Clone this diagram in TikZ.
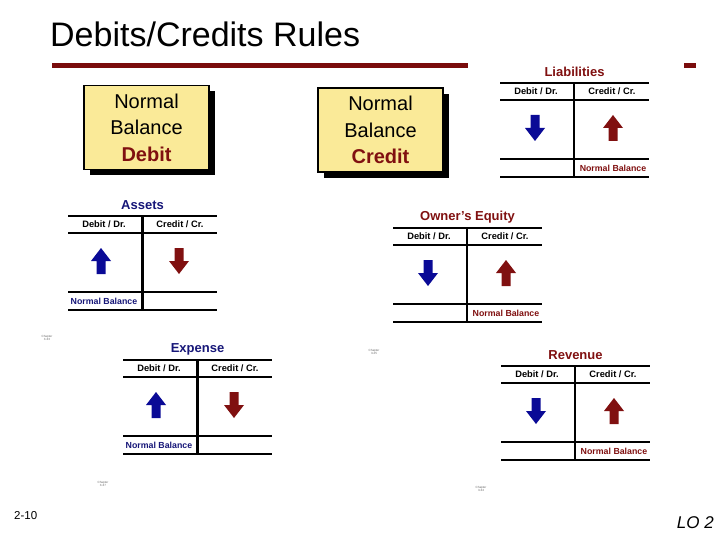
\documentclass[tikz,border=0pt]{standalone}
\usepackage{fontspec}
\setmainfont{Liberation Sans}
\usepackage{tikz}
\usetikzlibrary{shadows}

\definecolor{slidered}{RGB}{122,12,12}
\definecolor{acctred}{RGB}{128,16,16}
\definecolor{acctblue}{RGB}{22,22,120}
\definecolor{arrblue}{RGB}{10,10,150}
\definecolor{notefill}{RGB}{250,234,152}

\tikzset{
  upbar/.pic   = {\fill[pic actions] (-4.5,13) -- (-4.5,0) -- (-10,0) -- (0,-13)
                    -- (10,0) -- (4.5,0) -- (4.5,13) -- cycle;},
  downbar/.pic = {\fill[pic actions] (-4.5,-13) -- (-4.5,0) -- (-10,0) -- (0,13)
                    -- (10,0) -- (4.5,0) -- (4.5,-13) -- cycle;}
}

% frame of a T-account, drawn in local coordinates (top left = origin)
\newcommand{\tframe}[3]{%
  \node[accttitle, text=#3] (#1-title) at (74.5,-11) {#2};
  \draw[tline] (0,0) -- (149,0);
  \draw[tline] (0,17) -- (149,17);
  \draw[tline] (0,76) -- (149,76);
  \draw[tline, line width=2.2pt] (0,94) -- (149,94);
  \node[acctcol] (#1-dr) at (36,8.5) {Debit / Dr.};
  \node[acctcol] (#1-cr) at (112,8.5) {Credit / Cr.};
}
% debit-normal account: name, x, y, title
\newcommand{\debitacct}[4]{%
  \begin{scope}[shift={(#2,#3)}]
    \tframe{#1}{#4}{acctblue}
    \draw[line width=3pt] (74.5,0) -- (74.5,94);
    \pic[fill=arrblue] (#1-up) at (33,45) {upbar};
    \pic[fill=acctred] (#1-down) at (111,45) {downbar};
    \node[normbal, text=acctblue] (#1-nb) at (36,85) {Normal Balance};
  \end{scope}}
% credit-normal account: name, x, y, title
\newcommand{\creditacct}[4]{%
  \begin{scope}[shift={(#2,#3)}]
    \tframe{#1}{#4}{acctred}
    \draw[line width=1.4pt] (74,0) -- (74,94);
    \pic[fill=arrblue] (#1-down) at (35,45) {downbar};
    \pic[fill=acctred] (#1-up) at (113,45) {upbar};
    \node[normbal, text=acctred] (#1-nb) at (113,85) {Normal Balance};
  \end{scope}}

\begin{document}
\begin{tikzpicture}[
  x=1pt, y=-1pt,
  tline/.style     = {line width=1.8pt},
  accttitle/.style = {font=\bfseries\fontsize{13}{13}\selectfont, inner sep=0pt},
  acctcol/.style   = {font=\bfseries\fontsize{9.3}{9.3}\selectfont, inner sep=0pt},
  normbal/.style   = {font=\bfseries\fontsize{8.8}{8.8}\selectfont, inner sep=0pt},
  nbbox/.style     = {draw, line width=1.5pt, fill=notefill, align=center,
                      minimum width=125pt, minimum height=84pt, inner sep=0pt,
                      font=\fontsize{20}{26.5}\selectfont,
                      drop shadow={shadow xshift=6pt, shadow yshift=-6pt,
                                   fill=black, opacity=1}},
  chap/.style      = {font=\fontsize{3}{3.5}\selectfont, text=black!60,
                      align=center, inner sep=0pt}
]
\useasboundingbox (0,0) rectangle (720,540);

% ---- heading --------------------------------------------------------------
\node[anchor=base west, inner sep=0pt, font=\fontsize{34}{36}\selectfont]
  (title) at (50,47) {Debits/Credits Rules};
\fill[slidered] (52,63) rectangle (468,68);
\fill[slidered] (684,63) rectangle (696,68);

% ---- normal balance notes -------------------------------------------------
\node[nbbox] (nbdebit) at (146.5,127.5)
  {Normal\\Balance\\\textbf{\color{acctred}Debit}};
\node[nbbox] (nbcredit) at (380.5,130)
  {Normal\\Balance\\\textbf{\color{acctred}Credit}};

% ---- T-accounts -----------------------------------------------------------
\creditacct{liab}{500}{83}{Liabilities}
\debitacct{assets}{68}{216}{Assets}
\creditacct{equity}{393}{228}{Owner’s Equity}
\debitacct{expense}{123}{360}{Expense}
\creditacct{revenue}{501}{366}{Revenue}

% ---- slide leftovers ------------------------------------------------------
\node[chap] (chap1) at (47,338) {Chapter\\3-33};
\node[chap] (chap2) at (374,352) {Chapter\\3-25};
\node[chap] (chap3) at (103,484) {Chapter\\3-37};
\node[chap] (chap4) at (481,489) {Chapter\\3-34};

\node[anchor=base west, inner sep=0pt, font=\fontsize{11.5}{11.5}\selectfont]
  (page) at (14,519) {2-10};
\node[anchor=base east, inner sep=0pt, font=\itshape\fontsize{17}{17}\selectfont]
  (lo) at (714,528) {LO 2};

\end{tikzpicture}
\end{document}
